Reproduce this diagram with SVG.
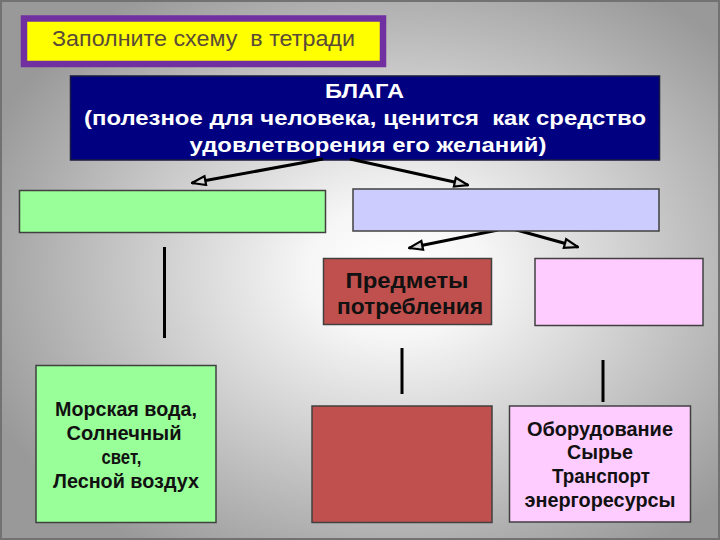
<svg xmlns="http://www.w3.org/2000/svg" width="720" height="540" viewBox="0 0 720 540">
  <defs>
    <radialGradient id="bg" cx="0.55" cy="0.5" r="0.62">
      <stop offset="0" stop-color="#ffffff"/>
      <stop offset="0.2" stop-color="#f6f6f6"/>
      <stop offset="0.85" stop-color="#aaaaaa"/>
      <stop offset="1" stop-color="#999999"/>
    </radialGradient>
    <marker id="arr" viewBox="0 0 16 12" refX="15" refY="6" markerWidth="16" markerHeight="12" markerUnits="userSpaceOnUse" orient="auto">
      <path d="M1.5,1.5 L15,6 L1.5,10.5 z" fill="#d8d8d8" stroke="#000" stroke-width="2.2" stroke-linejoin="miter"/>
    </marker>
    <style>
      .box { stroke: #404040; stroke-width: 1.5; }
      .green { fill: #99ff99; }
      .blue { fill: #ccccff; }
      .pink { fill: #ffccff; }
      .red { fill: #c0504d; }
      .lbl { font-family: "Liberation Sans", Arial, sans-serif; font-weight: bold; text-anchor: middle; fill: #111; }
      .hdr { font-family: "Liberation Sans", Arial, sans-serif; font-weight: bold; text-anchor: middle; fill: #ffffff; font-size: 21px; }
      .conn { stroke: #000; stroke-width: 3; fill: none; }
    </style>
  </defs>

  <rect x="0" y="0" width="720" height="540" fill="url(#bg)"/>
  <rect x="1" y="1" width="718" height="538" fill="none" stroke="#727272" stroke-width="2"/>

  <g id="title">
    <rect x="24" y="18.5" width="359" height="45.5" fill="#ffff00" stroke="#7030a0" stroke-width="6.5"/>
    <text x="203.5" y="46" xml:space="preserve" font-family="Liberation Sans, Arial, sans-serif" font-size="22.5" fill="#5a4a38" text-anchor="middle" textLength="303" lengthAdjust="spacingAndGlyphs">Заполните схему  в тетради</text>
  </g>

  <g id="blaga">
    <rect x="70.5" y="76" width="589" height="84" fill="#000080" stroke="#1a1a40" stroke-width="1.5"/>
    <text class="hdr" x="364.5" y="97.5" textLength="79" lengthAdjust="spacingAndGlyphs">БЛАГА</text>
    <text class="hdr" x="365" y="124.5" xml:space="preserve" textLength="562" lengthAdjust="spacingAndGlyphs">(полезное для человека, ценится  как средство</text>
    <text class="hdr" x="368" y="151.5" textLength="357" lengthAdjust="spacingAndGlyphs">удовлетворения его желаний)</text>
  </g>

  <g id="connectors">
    <line class="conn" x1="323" y1="159" x2="192" y2="183" marker-end="url(#arr)"/>
    <line class="conn" x1="350" y1="159" x2="468" y2="185" marker-end="url(#arr)"/>
    <line class="conn" x1="498" y1="230" x2="409" y2="248" marker-end="url(#arr)"/>
    <line class="conn" x1="513" y1="229" x2="578" y2="247" marker-end="url(#arr)"/>
    <line class="conn" x1="164.5" y1="247" x2="164.5" y2="338"/>
    <line class="conn" x1="402" y1="348" x2="402" y2="394"/>
    <line class="conn" x1="603" y1="360" x2="603" y2="402"/>
  </g>

  <g id="green-top">
    <rect class="box green" x="19.5" y="190.5" width="306" height="42"/>
  </g>

  <g id="blue-top">
    <rect class="box blue" x="353" y="189" width="306" height="42"/>
  </g>

  <g id="predmety">
    <rect class="box red" x="323.5" y="258.5" width="168" height="66"/>
    <text class="lbl" x="407" y="287.5" font-size="22.5" textLength="123" lengthAdjust="spacingAndGlyphs">Предметы</text>
    <text class="lbl" x="410" y="314" font-size="22.5" textLength="146" lengthAdjust="spacingAndGlyphs">потребления</text>
  </g>

  <g id="pink-top">
    <rect class="box pink" x="535" y="258.5" width="168" height="67"/>
  </g>

  <g id="green-bottom">
    <rect class="box green" x="36" y="365.5" width="180" height="157"/>
    <text class="lbl" x="126" y="416" font-size="21" textLength="142" lengthAdjust="spacingAndGlyphs">Морская вода,</text>
    <text class="lbl" x="124" y="440" font-size="21" textLength="115" lengthAdjust="spacingAndGlyphs">Солнечный</text>
    <text class="lbl" x="121.5" y="464" font-size="21" textLength="40" lengthAdjust="spacingAndGlyphs">свет,</text>
    <text class="lbl" x="126" y="488" font-size="21" textLength="146" lengthAdjust="spacingAndGlyphs">Лесной воздух</text>
  </g>

  <g id="red-bottom">
    <rect class="box red" x="312" y="406" width="180" height="116.5"/>
  </g>

  <g id="pink-bottom">
    <rect class="box pink" x="509.5" y="406" width="181" height="116"/>
    <text class="lbl" x="600" y="435.5" font-size="20" textLength="146" lengthAdjust="spacingAndGlyphs">Оборудование</text>
    <text class="lbl" x="600" y="459" font-size="20" textLength="66" lengthAdjust="spacingAndGlyphs">Сырье</text>
    <text class="lbl" x="601" y="483" font-size="20" textLength="98" lengthAdjust="spacingAndGlyphs">Транспорт</text>
    <text class="lbl" x="600" y="506.5" font-size="20" textLength="151" lengthAdjust="spacingAndGlyphs">энергоресурсы</text>
  </g>
</svg>
